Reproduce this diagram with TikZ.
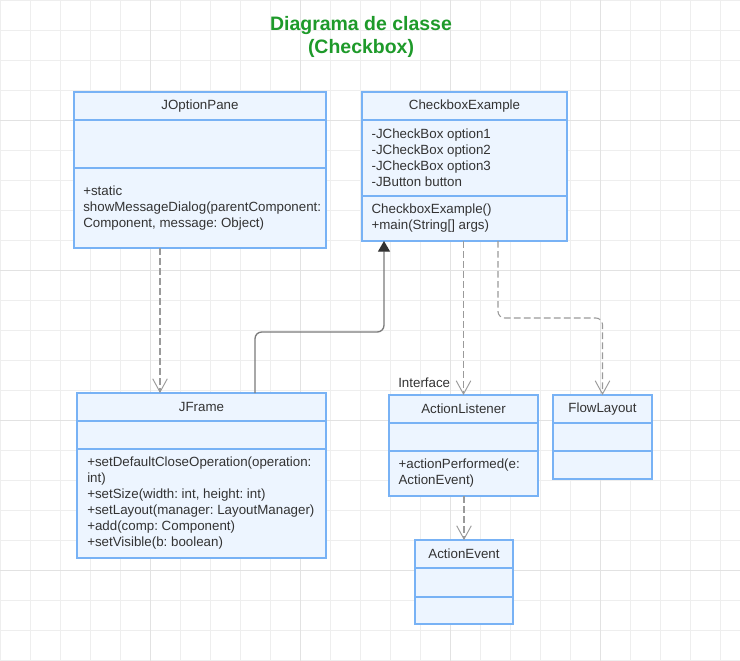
\documentclass[tikz,border=0pt]{standalone}
\usepackage{fontspec}
\setmainfont{Liberation Sans}
\frenchspacing
\usepackage{tikz}
\usetikzlibrary{positioning}
\usetikzlibrary{arrows.meta}

\definecolor{boxline}{HTML}{78B2F5}
\definecolor{boxfill}{HTML}{EDF5FF}
\definecolor{gridminor}{HTML}{EEEEEE}
\definecolor{gridmajor}{HTML}{E2E2E2}
\definecolor{titlegreen}{HTML}{1E9A2A}
\definecolor{txt}{HTML}{333333}
\definecolor{dashgray}{HTML}{9A9A9A}
\definecolor{solidgray}{HTML}{7A7A7A}

\tikzset{
  part/.style={draw=boxline, fill=boxfill, line width=1.3pt, inner sep=0pt, outer sep=0pt,
               font=\fontsize{10pt}{12pt}\selectfont, text=txt},
  hdr/.style={part, anchor=north west, minimum height=21pt},
  mtxt/.style={anchor=west, align=left, inner sep=0pt,
               font=\fontsize{10pt}{12pt}\selectfont, text=txt},
  dep/.style={draw=dashgray, line width=0.8pt, dash pattern=on 5pt off 2.5pt,
              -{Straight Barb[length=10pt,width=11pt,line width=0.7pt]}},
  inh/.style={draw=solidgray, line width=1pt, rounded corners=5pt,
              -{Triangle[length=8pt,width=9pt,color=txt]}}
}

\begin{document}
\begin{tikzpicture}[x=0.75pt, y=-0.75pt]
  \useasboundingbox (0,0) rectangle (740,661);
  \fill[white] (0,0) rectangle (740,661);

  % Grid
  \foreach \x in {0,30,...,720}
    \draw[gridminor, line width=0.75pt] (\x,0) -- (\x,661);
  \foreach \y in {0,30,...,660}
    \draw[gridminor, line width=0.75pt] (0,\y) -- (740,\y);
  \foreach \x in {150,300,450,600}
    \draw[gridmajor, line width=0.75pt] (\x,0) -- (\x,661);
  \foreach \y in {120,270,420,570}
    \draw[gridmajor, line width=0.75pt] (0,\y) -- (740,\y);

  % Title
  \node[align=center, text=titlegreen, font=\bfseries\fontsize{14.6pt}{17.25pt}\selectfont]
    (ttl) at (361,37) {Diagrama de classe\\(Checkbox)};

  % JOptionPane
  \node[hdr, minimum width=189pt] (jopH) at (74,92) {JOptionPane};
  \node[part, below=0pt of jopH, minimum width=189pt, minimum height=36pt] (jopA) {};
  \node[part, below=0pt of jopA, minimum width=189pt, minimum height=60pt] (jopM) {};
  \node[mtxt] (jopMt) at ([xshift=6.75pt]jopM.west)
    {+static\\showMessageDialog(parentComponent:\\Component, message: Object)};

  % CheckboxExample
  \node[hdr, minimum width=153.75pt] (cbH) at (362,92) {CheckboxExample};
  \node[part, below=0pt of cbH, minimum width=153.75pt, minimum height=57pt] (cbA) {};
  \node[part, below=0pt of cbA, minimum width=153.75pt, minimum height=33.75pt] (cbM) {};
  \node[mtxt] (cbAt) at ([xshift=7pt]cbA.west)
    {-JCheckBox option1\\-JCheckBox option2\\-JCheckBox option3\\-JButton button};
  \node[mtxt] (cbMt) at ([xshift=7pt]cbM.west)
    {CheckboxExample()\\+main(String[] args)};

  % JFrame
  \node[hdr, minimum width=186.75pt] (jfH) at (77,393) {JFrame};
  \node[part, below=0pt of jfH, minimum width=186.75pt, minimum height=21pt] (jfA) {};
  \node[part, below=0pt of jfA, minimum width=186.75pt, minimum height=81.75pt] (jfM) {};
  \node[mtxt] (jfMt) at ([xshift=7.5pt]jfM.west)
    {+setDefaultCloseOperation(operation:\\int)\\+setSize(width: int, height: int)\\
     +setLayout(manager: LayoutManager)\\+add(comp: Component)\\+setVisible(b: boolean)};

  % ActionListener
  \node[hdr, minimum width=111.75pt] (alH) at (389,395) {ActionListener};
  \node[part, below=0pt of alH, minimum width=111.75pt, minimum height=21pt] (alA) {};
  \node[part, below=0pt of alA, minimum width=111.75pt, minimum height=33.75pt] (alM) {};
  \node[mtxt] (alMt) at ([xshift=7pt]alM.west) {+actionPerformed(e:\\ActionEvent)};
  \node[mtxt, anchor=base west] (ifc) at (398,387) {Interface};

  % FlowLayout
  \node[hdr, minimum width=74.25pt] (flH) at (553,395) {FlowLayout};
  \node[part, below=0pt of flH, minimum width=74.25pt, minimum height=21pt] (flA) {};
  \node[part, below=0pt of flA, minimum width=74.25pt, minimum height=21pt] (flM) {};

  % ActionEvent
  \node[hdr, minimum width=73.5pt] (aeH) at (415,540) {ActionEvent};
  \node[part, below=0pt of aeH, minimum width=73.5pt, minimum height=21.75pt] (aeA) {};
  \node[part, below=0pt of aeA, minimum width=73.5pt, minimum height=20.25pt] (aeM) {};

  % Connectors
  \coordinate (a1) at ([xshift=64.5pt]jopM.south west);
  \draw[dep] (a1) -- (a1 |- jfH.north);

  \coordinate (b1) at ([xshift=133.5pt]jfH.north west);
  \coordinate (b2) at ([xshift=16.5pt]cbM.south west);
  \coordinate (bk) at (0,332);
  \draw[inh] (b1) |- (b2 |- bk) -- (b2);

  \draw[dep] (alH.north |- cbM.south) -- (alH.north);

  \coordinate (c1) at ([xshift=102pt]cbM.south west);
  \coordinate (ck) at (0,318);
  \draw[dep, rounded corners=5pt] (c1) |- (flH.north |- ck) -- (flH.north);

  \draw[dep] (alM.south -| aeH.north) -- (aeH.north);
\end{tikzpicture}
\end{document}
